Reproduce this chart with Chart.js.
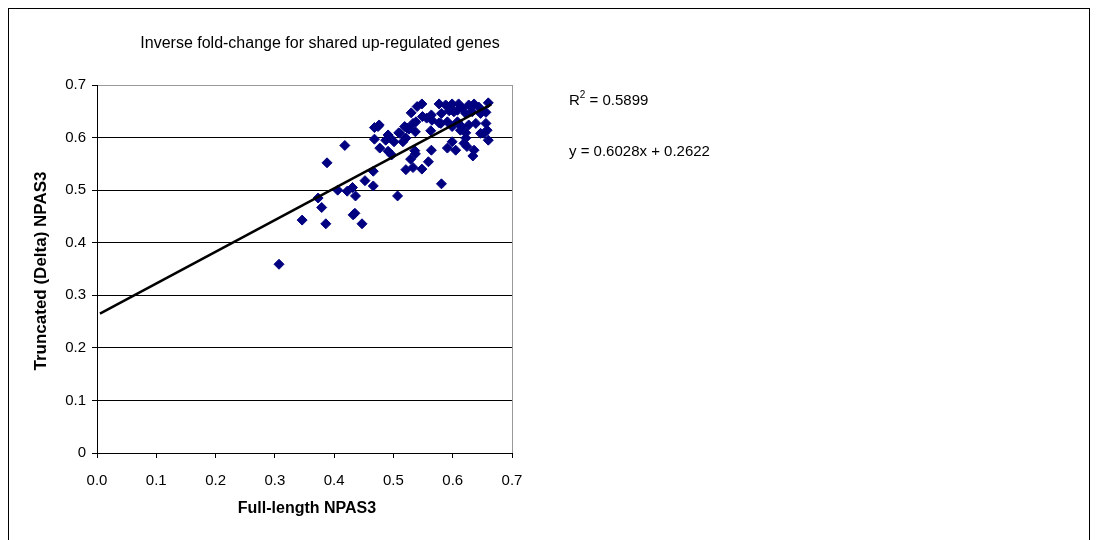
<!DOCTYPE html>
<html>
<head>
<meta charset="utf-8">
<script src="https://cdn.jsdelivr.net/npm/chart.js@4"></script>
<style>
  body { margin: 0; background: #fff; }
  #wrap { position: relative; width: 1098px; height: 540px; overflow: hidden; }
  #frame { position: absolute; left: 8px; top: 8px; width: 1082px; height: 600px; border: 1px solid #000; box-sizing: border-box; }
  canvas { position: absolute; left: 0; top: 0; }
</style>
</head>
<body>
<div id="wrap">
  <div id="frame"></div>
  <canvas id="scatterChart" width="1098" height="540"></canvas>
</div>
<script>
// Données
const fullLength = [
  0.307, 0.346, 0.386, 0.379, 0.373, 0.388, 0.418, 0.406, 0.422, 0.431,
  0.436, 0.432, 0.435, 0.447, 0.452, 0.466, 0.466, 0.468, 0.474, 0.468,
  0.477, 0.491, 0.495, 0.501, 0.491, 0.497, 0.507, 0.511, 0.519, 0.516,
  0.521, 0.521, 0.529, 0.533, 0.530, 0.526, 0.533, 0.538, 0.536, 0.537,
  0.540, 0.537, 0.548, 0.548, 0.559, 0.564, 0.563, 0.556, 0.564, 0.577,
  0.581, 0.577, 0.581, 0.591, 0.599, 0.610, 0.627, 0.636, 0.660, 0.644,
  0.594, 0.602, 0.608, 0.616, 0.622, 0.633, 0.647, 0.656, 0.591, 0.599,
  0.613, 0.608, 0.627, 0.639, 0.656, 0.658, 0.653, 0.647, 0.660, 0.599,
  0.591, 0.605, 0.619, 0.622, 0.624, 0.636, 0.634, 0.615, 0.622, 0.588,
  0.549, 0.565, 0.580, 0.523, 0.509, 0.487, 0.476
];
const truncated = [
  0.359, 0.443, 0.436, 0.467, 0.485, 0.552, 0.585, 0.500, 0.498, 0.505,
  0.489, 0.453, 0.456, 0.436, 0.518, 0.536, 0.508, 0.619, 0.621, 0.597,
  0.580, 0.605, 0.599, 0.592, 0.574, 0.567, 0.489, 0.608, 0.621, 0.592,
  0.599, 0.539, 0.559, 0.543, 0.647, 0.616, 0.627, 0.630, 0.575, 0.569,
  0.659, 0.611, 0.664, 0.540, 0.554, 0.576, 0.613, 0.637, 0.643, 0.664,
  0.512, 0.628, 0.646, 0.659, 0.664, 0.664, 0.662, 0.664, 0.666, 0.658,
  0.651, 0.649, 0.652, 0.656, 0.646, 0.649, 0.646, 0.648, 0.630, 0.621,
  0.614, 0.630, 0.624, 0.627, 0.627, 0.614, 0.608, 0.608, 0.595, 0.592,
  0.580, 0.576, 0.589, 0.599, 0.583, 0.576, 0.565, 0.621, 0.609, 0.662,
  0.640, 0.633, 0.627, 0.618, 0.609, 0.595, 0.624
];

// Droite de tendance (équation affichée sur le graphique)
const trendSlope = 0.6028;
const trendIntercept = 0.2622;
const trendRange = [0.005, 0.665];

const xTicks = [0, 0.1, 0.2, 0.3, 0.4, 0.5, 0.6, 0.7];
const yTicks = [0, 0.1, 0.2, 0.3, 0.4, 0.5, 0.6, 0.7];

const chartTitle = 'Inverse fold-change for shared up-regulated genes';
const xTitle = 'Full-length NPAS3';
const yTitle = 'Truncated (Delta) NPAS3';
const r2Value = '0.5899';
const equation = 'y = 0.6028x + 0.2622';

const FONT = 'Arial, "Liberation Sans", sans-serif';

// Textes et cadre de la zone de tracé
const annotations = {
  id: 'annotations',
  afterDraw(chart) {
    const ctx = chart.ctx;
    const area = chart.chartArea;
    ctx.save();

    // bordure grise à droite
    ctx.strokeStyle = '#999';
    ctx.lineWidth = 1;
    ctx.beginPath();
    ctx.moveTo(Math.round(area.right) + 0.5, area.top);
    ctx.lineTo(Math.round(area.right) + 0.5, area.bottom);
    ctx.stroke();

    ctx.fillStyle = '#000';
    ctx.textBaseline = 'middle';

    // titre
    ctx.font = '16px ' + FONT;
    ctx.textAlign = 'center';
    ctx.fillText(chartTitle, 320, 44);

    // titres des axes
    ctx.font = 'bold 16px ' + FONT;
    ctx.fillText(xTitle, 307, 509);
    ctx.save();
    ctx.translate(41, 271);
    ctx.rotate(-Math.PI / 2);
    ctx.font = 'bold 17px ' + FONT;
    ctx.fillText(yTitle, 0, 0);
    ctx.restore();

    // R² et équation
    ctx.textAlign = 'left';
    ctx.font = '15px ' + FONT;
    let x = 569;
    ctx.fillText('R', x, 101);
    x += ctx.measureText('R').width;
    ctx.font = '10px ' + FONT;
    ctx.fillText('2', x, 95);
    x += ctx.measureText('2').width;
    ctx.font = '15px ' + FONT;
    ctx.fillText(' = ' + r2Value, x, 101);
    ctx.fillText(equation, 569, 152);

    ctx.restore();
  }
};

const points = fullLength.map((v, i) => ({ x: v, y: truncated[i] }));
const trendPoints = trendRange.map(v => ({ x: v, y: trendSlope * v + trendIntercept }));

const ctx = document.getElementById('scatterChart').getContext('2d');
const scatterChart = new Chart(ctx, {
  type: 'scatter',
  data: {
    datasets: [
      {
        label: 'genes',
        data: points,
        pointStyle: 'rectRot',
        pointRadius: 5,
        pointBackgroundColor: '#000080',
        pointBorderColor: '#000080',
        pointBorderWidth: 1,
        order: 2
      },
      {
        label: 'trend',
        type: 'line',
        data: trendPoints,
        borderColor: '#000',
        borderWidth: 2.5,
        pointRadius: 0,
        fill: false,
        order: 1
      }
    ]
  },
  options: {
    responsive: false,
    animation: false,
    events: [],
    layout: { padding: { left: 0, top: 85, right: 586, bottom: 0 } },
    plugins: {
      legend: { display: false },
      tooltip: { enabled: false },
      title: { display: false }
    },
    scales: {
      x: {
        type: 'linear',
        min: 0,
        max: 0.7,
        afterFit(scale) { scale.height = 87; },
        afterBuildTicks(scale) { scale.ticks = xTicks.map(v => ({ value: v })); },
        grid: { drawOnChartArea: false, tickLength: 5, tickColor: '#000' },
        border: { color: '#000', width: 1 },
        ticks: {
          padding: 14,
          color: '#000',
          font: { family: FONT, size: 15 },
          callback: v => Number(v).toFixed(1)
        }
      },
      y: {
        type: 'linear',
        min: 0,
        max: 0.7,
        afterFit(scale) { scale.width = 97; },
        afterBuildTicks(scale) { scale.ticks = yTicks.map(v => ({ value: v })); },
        grid: {
          tickLength: 5,
          tickColor: '#000',
          color: c => (c.tick && c.tick.value >= 0.69 ? '#999' : '#000')
        },
        border: { color: '#000', width: 1 },
        ticks: {
          padding: 6,
          color: '#000',
          font: { family: FONT, size: 15 },
          callback: v => (v === 0 ? '0' : Number(v).toFixed(1))
        }
      }
    }
  },
  plugins: [annotations]
});
</script>
</body>
</html>
